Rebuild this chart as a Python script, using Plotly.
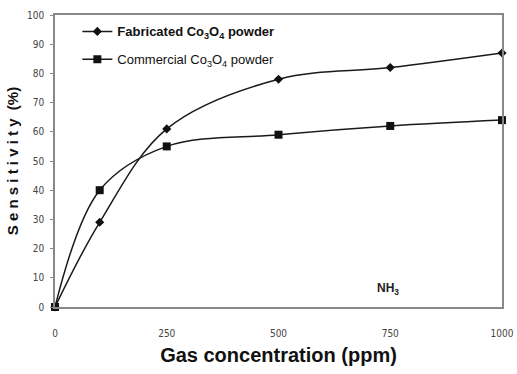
import plotly.graph_objects as go

conc = [0, 100, 250, 500, 750, 1000]
fabricated = [0, 29, 61, 78, 82, 87]
commercial = [0, 40, 55, 59, 62, 64]
x_ticks = [0, 250, 500, 750, 1000]
y_ticks = [0, 10, 20, 30, 40, 50, 60, 70, 80, 90, 100]

FONT = "Liberation Sans, sans-serif"
CFONT = "DejaVu Sans Condensed, Liberation Sans, sans-serif"

fig = go.Figure()
fig.add_trace(go.Scatter(
    x=conc, y=fabricated, mode="lines+markers",
    name="<b>Fabricated Co<sub>3</sub>O<sub>4</sub> powder</b>",
    line=dict(color="#1a1a1a", width=1.5, shape="spline", smoothing=1),
    marker=dict(symbol="diamond", size=7, color="#111"),
    legendgroup="a", cliponaxis=False,
))
fig.add_trace(go.Scatter(
    x=conc, y=commercial, mode="lines+markers",
    name="Commercial Co<sub>3</sub>O<sub>4</sub> powder",
    line=dict(color="#1a1a1a", width=1.5, shape="spline", smoothing=1),
    marker=dict(symbol="square", size=8, color="#111"),
    legendgroup="b", cliponaxis=False,
))

fig.add_annotation(x=745, y=6, text="<b>NH<sub>3</sub></b>", showarrow=False,
                   font=dict(family=FONT, size=12, color="#222"))

fig.update_layout(
    width=517, height=374,
    margin=dict(l=55, r=15, t=15, b=67),
    paper_bgcolor="white", plot_bgcolor="white",
    showlegend=True,
    legend=dict(x=0.05, y=0.995, xanchor="left", yanchor="top",
                bgcolor="rgba(0,0,0,0)", tracegroupgap=8,
                font=dict(family=FONT, size=13, color="#111"),
                itemwidth=30),
    xaxis=dict(range=[0, 1000], tickvals=x_ticks, showgrid=False, zeroline=False,
               showline=True, linecolor="#888", linewidth=1.5, mirror=True,
               ticks="", ticklabelstandoff=16, automargin=False,
               tickfont=dict(family=CFONT, size=10, color="#444"),
               title=dict(text="<b>Gas concentration (ppm)</b>", standoff=10,
                          font=dict(family=FONT, size=20, color="#111"))),
    yaxis=dict(range=[0, 100], tickvals=y_ticks, showgrid=False, zeroline=False,
               showline=True, linecolor="#888", linewidth=1.5, mirror=True,
               ticks="outside", ticklen=3, tickcolor="#888", ticklabelstandoff=4,
               automargin=False,
               tickfont=dict(family=CFONT, size=10, color="#444"),
               title=dict(text="<b>S e n s i t i v i t y  (%)</b>", standoff=5,
                          font=dict(family=FONT, size=15, color="#111"))),
)

fig.write_html("out.html")
